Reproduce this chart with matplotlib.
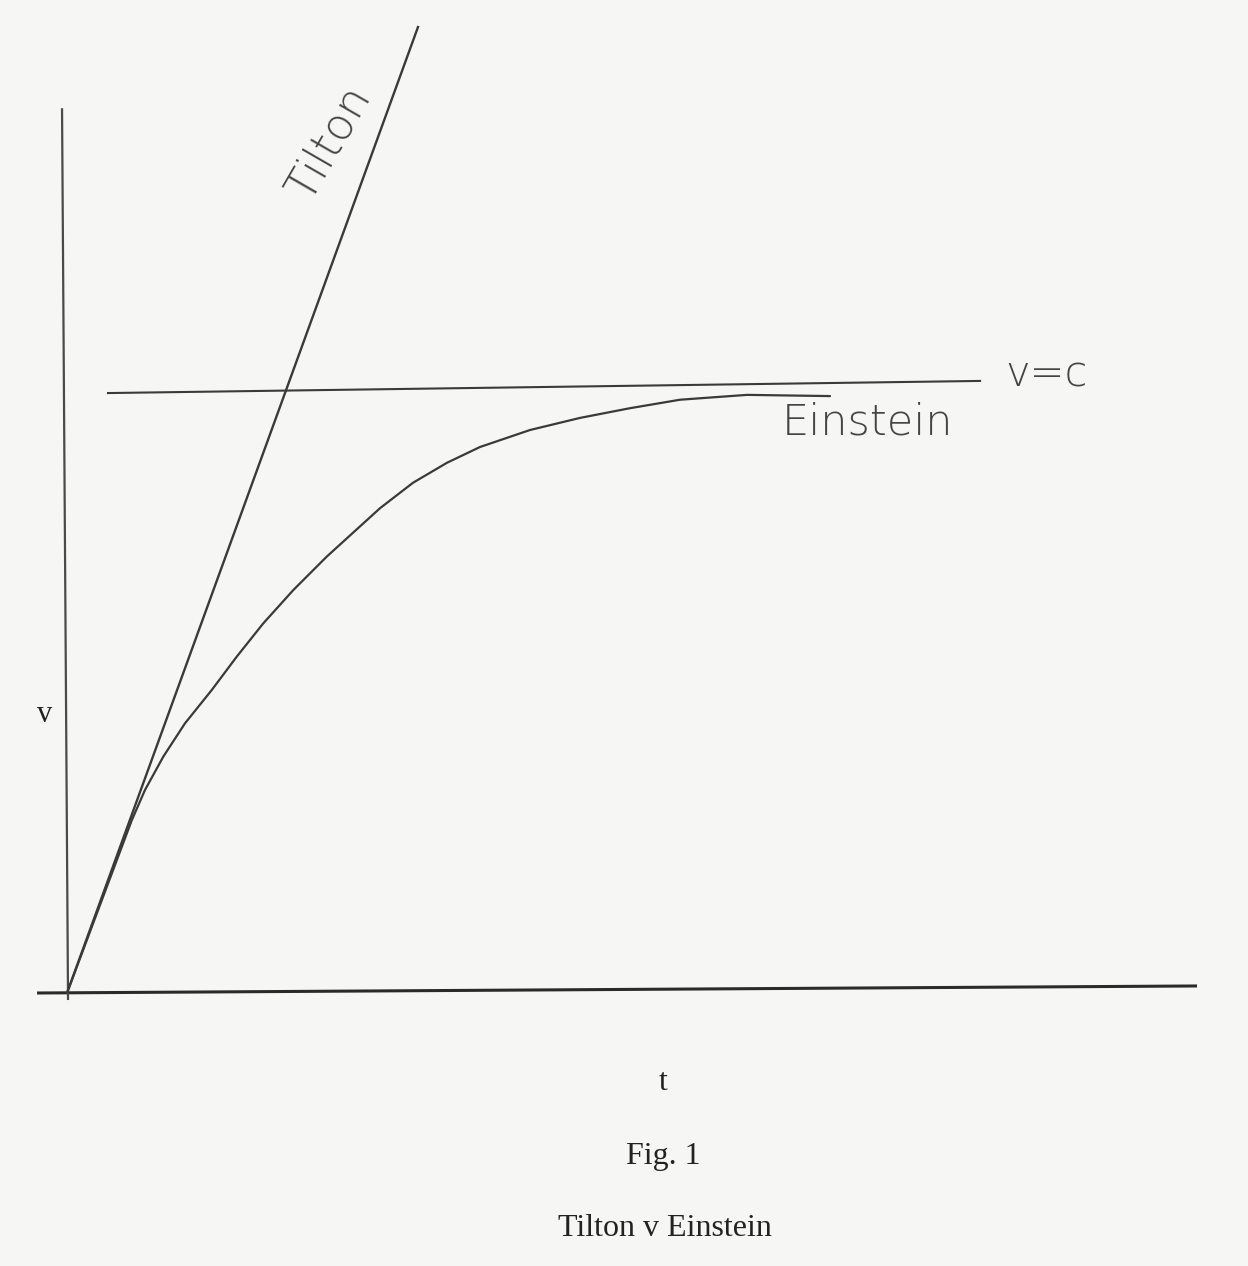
import matplotlib
matplotlib.use("Agg")
import matplotlib.pyplot as plt

# ---- data (t, v units; c = 1) ----
tilton_t = [0.0, 3.106]
tilton_v = [0.0, 1.594]

einstein_t = [0.0, 0.573, 0.690, 0.852, 1.044, 1.281, 1.502, 1.737, 2.003,
              2.298, 2.770, 3.062, 3.363, 3.655, 4.097, 4.540, 4.982, 5.425,
              6.018, 6.752]
einstein_v = [0.0, 0.285, 0.335, 0.390, 0.445, 0.500, 0.555, 0.610, 0.665,
              0.720, 0.800, 0.842, 0.875, 0.901, 0.929, 0.949, 0.965, 0.979,
              0.987, 0.985]

c_line_t = [0.363, 8.08]
c_line_v = [0.990, 1.010]

t_axis_t = [-0.265, 10.0]
t_axis_v = [0.0, 0.0116]
v_axis_t = [0.009, -0.044]
v_axis_v = [-0.0116, 1.460]

labels_hand = ["Tilton", "Einstein", "v=c"]
labels_print = ["v", "t", "Fig. 1", "Tilton v Einstein"]

bg = "#f6f6f4"
ink = "#3a3a3a"

fig = plt.figure(figsize=(12.48, 12.66), dpi=100, facecolor=bg)
ax = fig.add_axes([0, 0, 1, 1])
ax.set_facecolor(bg)
ax.set_xlim(-0.593, 10.451)
ax.set_ylim(-0.4505, 1.6386)
ax.axis("off")

ax.plot(t_axis_t, t_axis_v, color="#2a2a2a", lw=2.2, solid_capstyle="butt")
ax.plot(v_axis_t, v_axis_v, color="#4a4a4a", lw=1.6, solid_capstyle="butt")
ax.plot(tilton_t, tilton_v, color=ink, lw=1.7)
ax.plot(c_line_t, c_line_v, color=ink, lw=1.5)
ax.plot(einstein_t, einstein_v, color=ink, lw=1.6,
        solid_joinstyle="round", solid_capstyle="round")

hand = dict(family="DejaVu Sans", color="#444444", fontweight="light")
ax.text(2.327, 1.403, labels_hand[0], fontsize=32, rotation=60,
        ha="center", va="center", **hand)
ax.text(7.08, 0.942, labels_hand[1], fontsize=31,
        ha="center", va="center", **hand)
ax.text(8.67, 1.021, labels_hand[2], fontsize=30,
        ha="center", va="center", **hand)

serif = dict(family="Liberation Serif", color="#222222")
ax.text(-0.195, 0.459, labels_print[0], fontsize=22, ha="center", va="center", **serif)
ax.text(5.274, -0.1485, labels_print[1], fontsize=23, ha="center", va="center", **serif)
ax.text(5.274, -0.2706, labels_print[2], fontsize=23, ha="center", va="center", **serif)
ax.text(5.29, -0.388, labels_print[3], fontsize=23, ha="center", va="center", **serif)

fig.savefig("out.png", dpi=100, facecolor=bg)
